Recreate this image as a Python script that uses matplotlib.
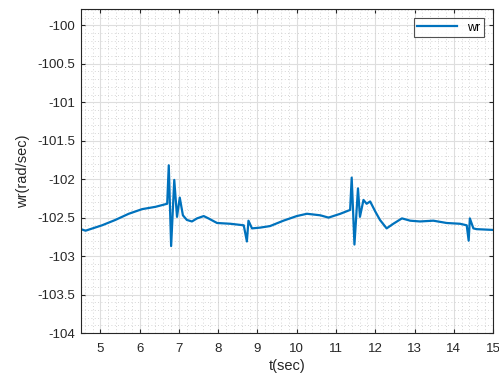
import numpy as np
import matplotlib
matplotlib.use("Agg")
from matplotlib import pyplot as plt
from matplotlib.ticker import MultipleLocator

# datos
t = [4.50, 4.62, 5.04, 5.38, 5.72, 6.06, 6.40, 6.70, 6.74, 6.80, 6.88, 6.95,
     7.02, 7.10, 7.20, 7.33, 7.46, 7.63, 7.75, 7.97, 8.31, 8.65, 8.73, 8.77,
     8.86, 9.07, 9.32, 9.66, 10.00, 10.26, 10.60, 10.81, 11.11, 11.36, 11.40,
     11.47, 11.56, 11.61, 11.70, 11.78, 11.87, 12.00, 12.12, 12.29, 12.46,
     12.68, 12.89, 13.14, 13.48, 13.82, 14.16, 14.33, 14.38, 14.41, 14.50,
     14.58, 15.00]
wr = [-102.65, -102.67, -102.60, -102.53, -102.45, -102.39, -102.36, -102.32,
      -101.82, -102.87, -102.01, -102.49, -102.24, -102.47, -102.53, -102.55,
      -102.51, -102.48, -102.51, -102.57, -102.58, -102.60, -102.81, -102.54,
      -102.64, -102.63, -102.61, -102.54, -102.48, -102.45, -102.47, -102.50,
      -102.45, -102.40, -101.98, -102.85, -102.12, -102.49, -102.27, -102.32,
      -102.29, -102.42, -102.53, -102.64, -102.58, -102.51, -102.54, -102.55,
      -102.54, -102.57, -102.58, -102.60, -102.80, -102.51, -102.64, -102.65,
      -102.66]

plt.rcParams['font.family'] = ['Liberation Sans', 'DejaVu Sans']

fig = plt.figure(figsize=(4.99, 3.74), dpi=100)
ax = fig.add_axes([0.162, 0.1096, 0.826, 0.866])

ax.plot(t, wr, color="#0072BD", lw=1.6, label="wr")

ax.set_xlim(4.5, 15)
ax.set_ylim(-104, -99.79)
ax.xaxis.set_major_locator(MultipleLocator(1))
ax.xaxis.set_minor_locator(MultipleLocator(0.2))
ax.yaxis.set_major_locator(MultipleLocator(0.5))
ax.yaxis.set_minor_locator(MultipleLocator(0.1))
ax.set_yticks(np.arange(-104, -99.9, 0.5))
ax.set_yticklabels(["-104", "-103.5", "-103", "-102.5", "-102", "-101.5",
                    "-101", "-100.5", "-100"])

ax.grid(which="major", color="#dedede", lw=0.8, ls="-")
ax.grid(which="minor", color="#c8c8c8", lw=0.6, ls=(0, (1, 3)))
ax.set_axisbelow(True)

ax.tick_params(which="both", direction="in", top=True, right=True,
               labelsize=9.5, colors="#262626", length=3, pad=4)
ax.tick_params(axis="x", pad=7)
ax.tick_params(which="minor", length=0)
for s in ax.spines.values():
    s.set_color("#262626")
    s.set_linewidth(0.8)

ax.set_xlabel("t(sec)", fontsize=10.5, color="#262626", labelpad=3)
ax.set_ylabel("wr(rad/sec)", fontsize=10.5, color="#262626", labelpad=5)

leg = ax.legend(loc="upper right", fontsize=9, fancybox=False,
                edgecolor="#262626", handlelength=3.2, borderpad=0.3,
                borderaxespad=0.7)
leg.get_frame().set_linewidth(0.8)

plt.savefig("out.png", dpi=100)
